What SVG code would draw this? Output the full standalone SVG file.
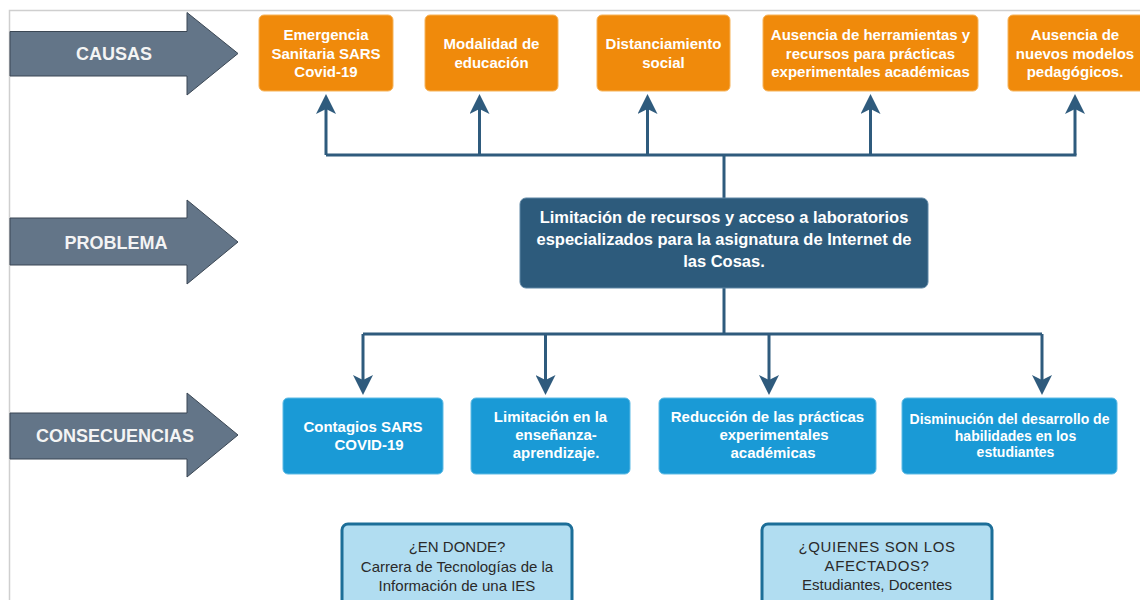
<svg xmlns="http://www.w3.org/2000/svg" width="1140" height="600" viewBox="0 0 1140 600">
  <defs>
    <marker id="head" viewBox="0 0 20 20" refX="10" refY="10" markerWidth="20" markerHeight="20" markerUnits="userSpaceOnUse" orient="auto">
      <path d="M0,0 L20,10 L0,20 L5,10 z" fill="#2f5b7d"/>
    </marker>
    <style>
      .frame { fill: none; stroke: #cfcfcf; stroke-width: 1.5; }
      .band { fill: #637588; stroke: #3b4754; stroke-width: 1; }
      .band-label { font-family: "Liberation Sans", Arial, sans-serif; font-weight: bold; font-size: 18px; fill: #f4f4f4; text-anchor: middle; }
      .cause { fill: #f08a0b; stroke: #f6b35a; stroke-width: 1; }
      .problem { fill: #2d5b7c; stroke: #5f87a5; stroke-width: 1; }
      .effect { fill: #1a9ad6; stroke: #5fbbe5; stroke-width: 1; }
      .info { fill: #b1ddf1; stroke: #1c6e98; stroke-width: 3; }
      .t { font-family: "Liberation Sans", Arial, sans-serif; font-weight: bold; fill: #ffffff; text-anchor: middle; }
      .t15 { font-size: 15px; }
      .t14 { font-size: 14px; }
      .t16 { font-size: 16.5px; }
      .it { font-family: "Liberation Sans", Arial, sans-serif; font-size: 15px; fill: #2a2a2a; text-anchor: middle; }
      .link { fill: none; stroke: #2f5b7d; stroke-width: 3; }
      .tip { fill: none; stroke: #2f5b7d; stroke-width: 3; marker-end: url(#head); }
    </style>
  </defs>

  <rect width="1140" height="600" fill="#ffffff"/>
  <path class="frame" d="M9.5,600 V10.5 H1140"/>

  <!-- row headers -->
  <g id="label-causas">
    <path class="band" d="M10,31.5 H187 V12.5 L238,53.5 L187,95 V76 H10 Z"/>
    <text class="band-label" x="114" y="60">CAUSAS</text>
  </g>
  <g id="label-problema">
    <path class="band" d="M10,218 H187 V200 L238,242 L187,284 V265 H10 Z"/>
    <text class="band-label" x="116" y="249">PROBLEMA</text>
  </g>
  <g id="label-consecuencias">
    <path class="band" d="M10,413 H187 V393 L238,435 L187,477 V459 H10 Z"/>
    <text class="band-label" x="115" y="442">CONSECUENCIAS</text>
  </g>

  <!-- connectors -->
  <g id="connectors">
    <path class="link" d="M326,155 H1076.5"/>
    <path class="link" d="M724,155 V199"/>
    <path class="tip" d="M326,155 V104"/>
    <path class="tip" d="M479.5,155 V104"/>
    <path class="tip" d="M647.5,155 V104"/>
    <path class="tip" d="M870.5,155 V104"/>
    <path class="tip" d="M1075,155 V104"/>

    <path class="link" d="M724,288 V334"/>
    <path class="link" d="M363,334 H1042"/>
    <path class="tip" d="M363,334 V385"/>
    <path class="tip" d="M545.5,334 V385"/>
    <path class="tip" d="M769,334 V385"/>
    <path class="tip" d="M1042,334 V385"/>
  </g>

  <!-- causes -->
  <g id="cause-emergencia">
    <rect class="cause" x="259" y="15" width="134" height="76" rx="5"/>
    <text class="t t15" x="326" y="40">Emergencia</text>
    <text class="t t15" x="326" y="58.5">Sanitaria SARS</text>
    <text class="t t15" x="326" y="77">Covid-19</text>
  </g>
  <g id="cause-modalidad">
    <rect class="cause" x="425" y="15" width="133" height="76" rx="5"/>
    <text class="t t15" x="491.5" y="49">Modalidad de</text>
    <text class="t t15" x="491.5" y="67.5">educación</text>
  </g>
  <g id="cause-distanciamiento">
    <rect class="cause" x="597" y="15" width="133" height="76" rx="5"/>
    <text class="t t15" x="663.5" y="49">Distanciamiento</text>
    <text class="t t15" x="663.5" y="67.5">social</text>
  </g>
  <g id="cause-herramientas">
    <rect class="cause" x="763" y="15" width="215" height="76" rx="5"/>
    <text class="t t15" x="870.5" y="40">Ausencia de herramientas y</text>
    <text class="t t15" x="870.5" y="58.5">recursos para prácticas</text>
    <text class="t t15" x="870.5" y="77">experimentales académicas</text>
  </g>
  <g id="cause-modelos">
    <rect class="cause" x="1008" y="15" width="140" height="76" rx="5"/>
    <text class="t t15" x="1075" y="40">Ausencia de</text>
    <text class="t t15" x="1075" y="58.5">nuevos modelos</text>
    <text class="t t15" x="1075" y="77">pedagógicos.</text>
  </g>

  <!-- central problem -->
  <g id="problem">
    <rect class="problem" x="520" y="198" width="408" height="90" rx="6"/>
    <text class="t t16" x="724" y="223">Limitación de recursos y acceso a laboratorios</text>
    <text class="t t16" x="724" y="245">especializados para la asignatura de Internet de</text>
    <text class="t t16" x="724" y="267">las Cosas.</text>
  </g>

  <!-- consequences -->
  <g id="effect-contagios">
    <rect class="effect" x="283" y="398" width="160" height="76" rx="5"/>
    <text class="t t15" x="363" y="432">Contagios SARS</text>
    <text class="t t15" x="369" y="450">COVID-19</text>
  </g>
  <g id="effect-ensenanza">
    <rect class="effect" x="471" y="398" width="159" height="76" rx="5"/>
    <text class="t t15" x="550.5" y="422">Limitación en la</text>
    <text class="t t15" x="556" y="440">enseñanza-</text>
    <text class="t t15" x="556" y="458">aprendizaje.</text>
  </g>
  <g id="effect-practicas">
    <rect class="effect" x="659" y="398" width="217" height="76" rx="5"/>
    <text class="t t15" x="767.5" y="422">Reducción de las prácticas</text>
    <text class="t t15" x="774" y="440">experimentales</text>
    <text class="t t15" x="773" y="458">académicas</text>
  </g>
  <g id="effect-habilidades">
    <rect class="effect" x="902" y="398" width="215" height="76" rx="5"/>
    <text class="t t14" x="1009.5" y="424">Disminución del desarrollo de</text>
    <text class="t t14" x="1015.5" y="440.5">habilidades en los</text>
    <text class="t t14" x="1015.5" y="457">estudiantes</text>
  </g>

  <!-- context notes -->
  <g id="note-donde">
    <rect class="info" x="342" y="524" width="230" height="90" rx="6"/>
    <text class="it" x="457" y="552">¿EN DONDE?</text>
    <text class="it" x="457" y="571.5">Carrera de Tecnologías de la</text>
    <text class="it" x="457" y="591">Información de una IES</text>
  </g>
  <g id="note-afectados">
    <rect class="info" x="762" y="524" width="230" height="90" rx="6"/>
    <text class="it" x="877" y="552" letter-spacing="0.6">¿QUIENES SON LOS</text>
    <text class="it" x="877" y="571" letter-spacing="0.6">AFECTADOS?</text>
    <text class="it" x="877" y="590">Estudiantes, Docentes</text>
  </g>
</svg>
